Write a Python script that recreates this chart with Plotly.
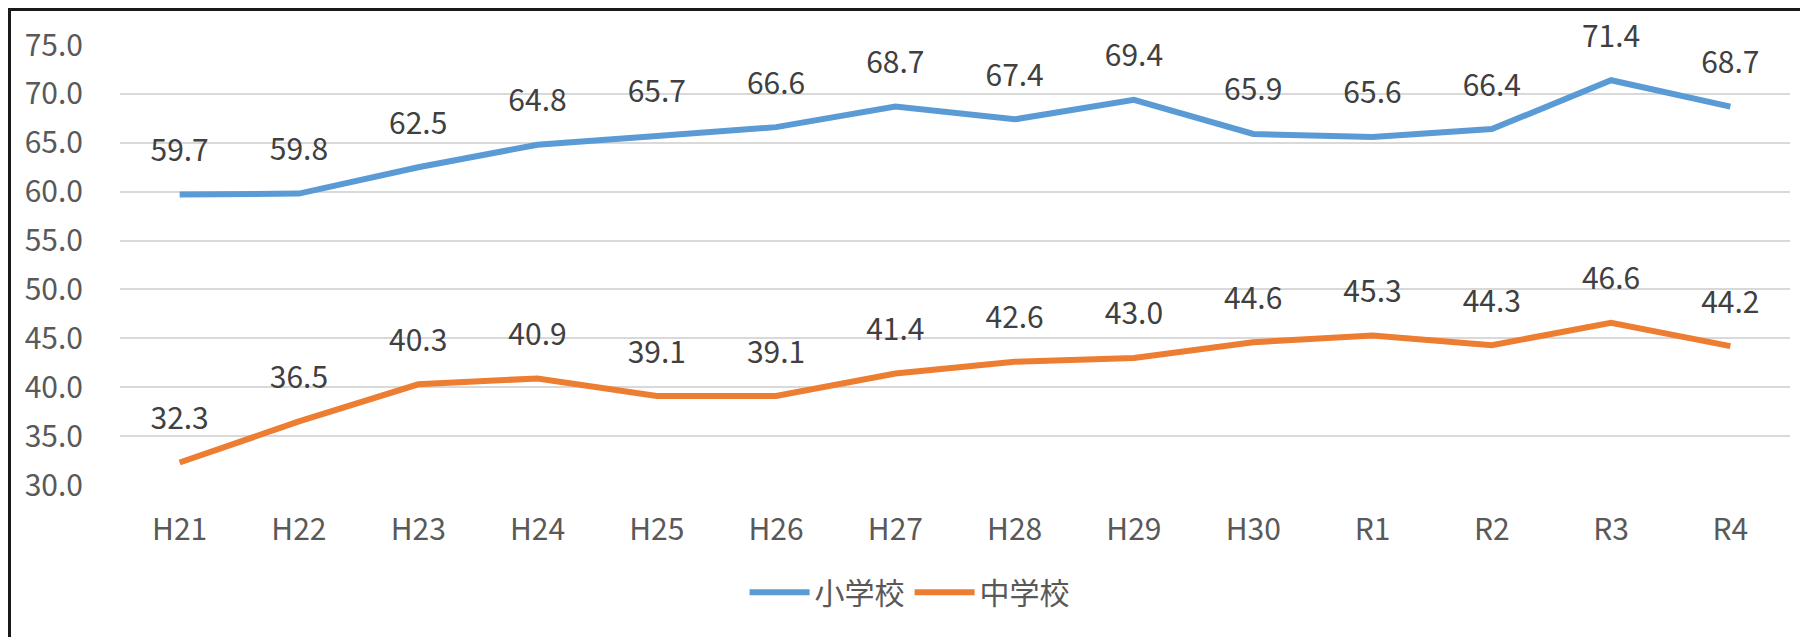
import plotly.graph_objects as go

categories = ["H21", "H22", "H23", "H24", "H25", "H26", "H27", "H28", "H29", "H30", "R1", "R2", "R3", "R4"]
elementary = [59.7, 59.8, 62.5, 64.8, 65.7, 66.6, 68.7, 67.4, 69.4, 65.9, 65.6, 66.4, 71.4, 68.7]
junior_high = [32.3, 36.5, 40.3, 40.9, 39.1, 39.1, 41.4, 42.6, 43.0, 44.6, 45.3, 44.3, 46.6, 44.2]
series_names = ["小学校", "中学校"]
y_ticks = [30, 35, 40, 45, 50, 55, 60, 65, 70, 75]

FONT = "Noto Sans CJK JP"
colors = ["#5B9BD5", "#ED7D31"]

W, H = 1800, 629
L, R, T, B = 112, 18, 37, 152
PW, PH = W - L - R, H - T - B

fig = go.Figure()
for name, vals, col in zip(series_names, [elementary, junior_high], colors):
    fig.add_trace(go.Scatter(
        x=categories, y=vals, name=name, mode="lines",
        line=dict(color=col, width=6),
        cliponaxis=False,
    ))
for name, vals, col in zip(series_names, [elementary, junior_high], colors):
    fig.add_trace(go.Scatter(
        x=categories, y=vals, name=name, mode="markers+text", showlegend=False,
        marker=dict(size=40, color=col, opacity=0),
        text=[f"{v:.1f}" for v in vals], textposition="top center",
        textfont=dict(family=FONT, size=30, color="#404040"),
        cliponaxis=False, hoverinfo="skip",
    ))

fig.update_layout(
    width=W, height=H,
    margin=dict(l=L, r=R, t=T, b=B),
    paper_bgcolor="white", plot_bgcolor="white",
    font=dict(family=FONT, size=30, color="#595959"),
    showlegend=True,
    legend=dict(orientation="h", x=0.374, xanchor="left", y=-0.244, yanchor="middle",
                font=dict(family=FONT, size=30, color="#595959"), itemwidth=60),
    xaxis=dict(type="category", range=[-0.5, len(categories) - 0.5],
               showgrid=False, showline=False, zeroline=False,
               ticks="", ticklabelstandoff=24, tickfont=dict(size=30)),
    yaxis=dict(range=[30, 75], tickvals=y_ticks, ticktext=[f"{v:.1f}" for v in y_ticks],
               showgrid=True, gridcolor="#D9D9D9", gridwidth=2, zeroline=False, showline=False,
               ticks="", ticklabelstandoff=36, tickfont=dict(size=30)),
    shapes=[dict(type="rect", xref="paper", yref="paper",
                 x0=(1.5 - L) / PW, x1=1.2, y0=-0.6, y1=1 + (T - 1.5) / PH,
                 line=dict(color="#1a1a1a", width=3), layer="below")],
)

fig.write_html("out.html")
